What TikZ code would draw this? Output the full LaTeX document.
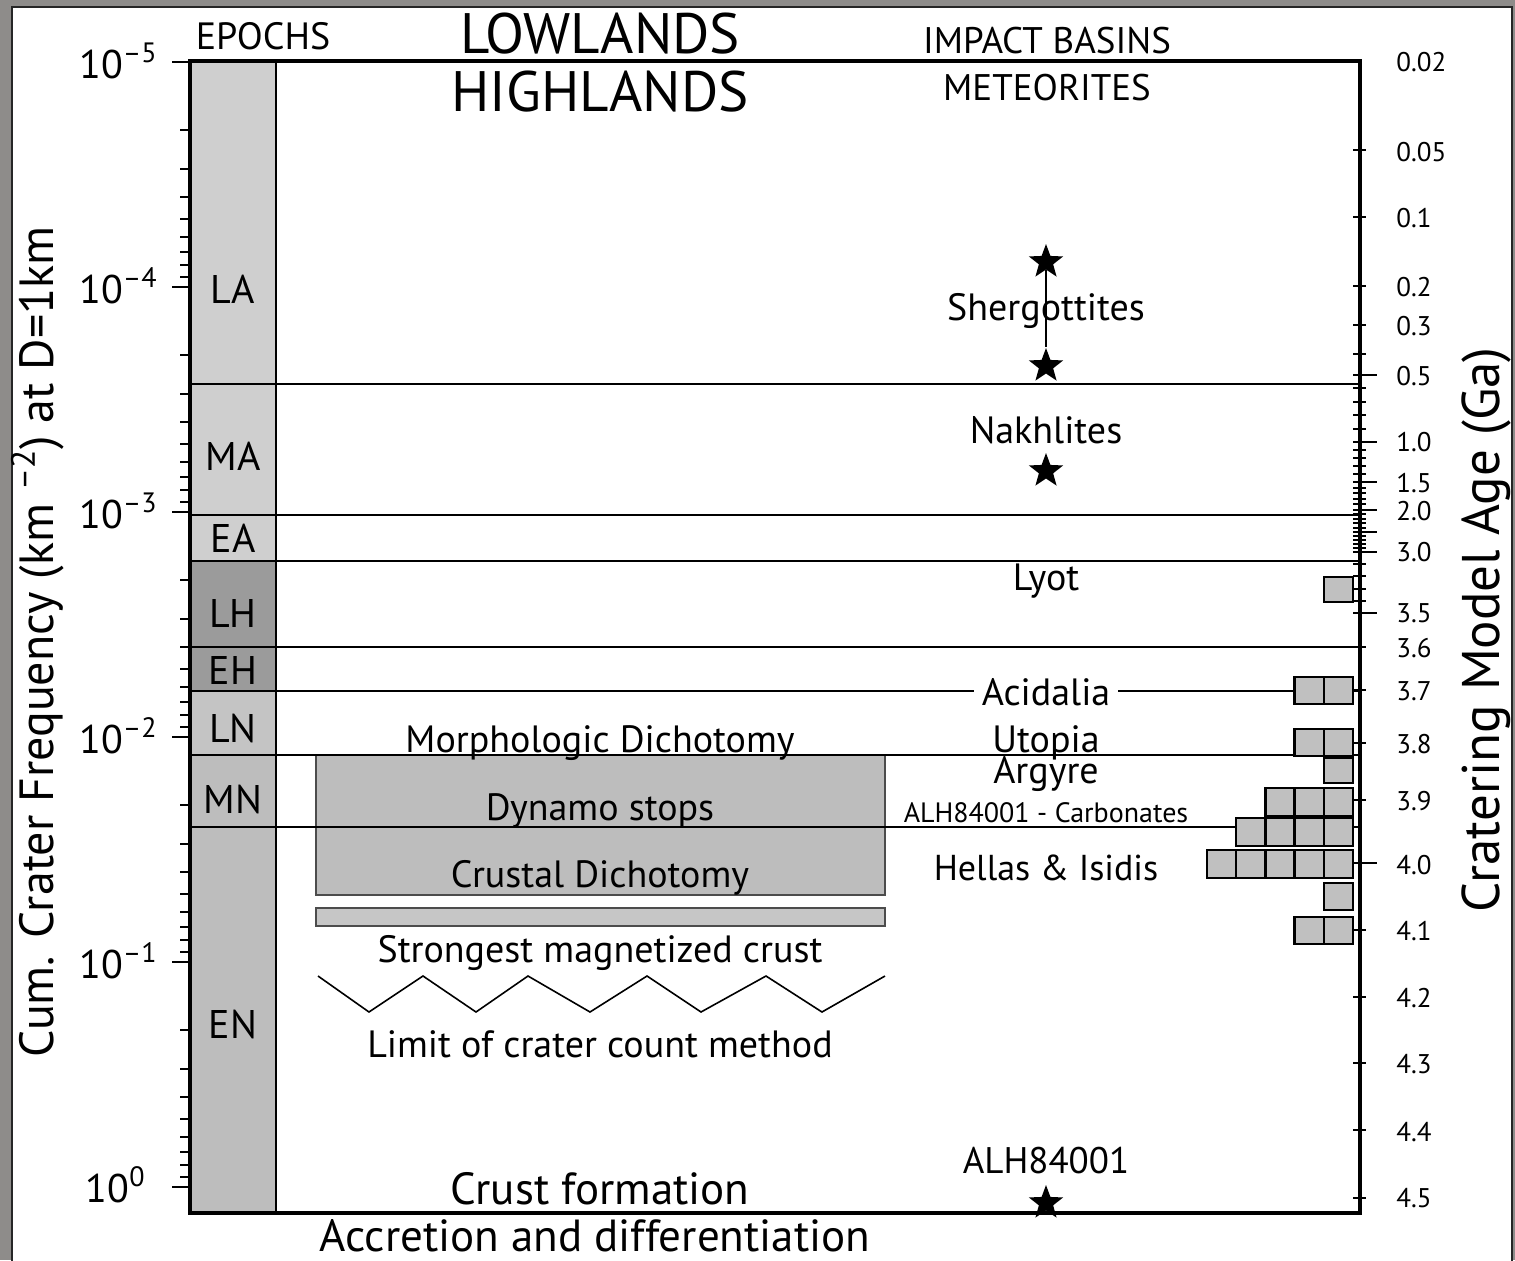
\documentclass[tikz,border=0pt]{standalone}
\usepackage{fontspec}
\setmainfont{PT Sans}
\usetikzlibrary{shapes.geometric}
\newcommand\fsz[1]{\fontsize{#1}{#1}\selectfont}
\definecolor{bggray}{HTML}{8E8C8A}
\definecolor{eplight}{HTML}{CFCFCF}
\definecolor{epmid}{HTML}{C4C4C4}
\definecolor{epdark}{HTML}{9B9B9B}
\definecolor{boxgray}{HTML}{BDBDBD}
\definecolor{bargray}{HTML}{C6C6C6}
\definecolor{sqgray}{HTML}{C0C0C0}
\begin{document}
\begin{tikzpicture}[x=0.5pt,y=-0.5pt,
  txt/.style={inner sep=0pt, anchor=base, font=\fsz{19}},
  eplab/.style={inner sep=0pt, anchor=base, font=\fsz{20}},
  head/.style={inner sep=0pt, anchor=base, font=\fsz{18.5}},
  big/.style={inner sep=0pt, anchor=base, font=\fsz{28.5}},
  ltick/.style={inner sep=0pt, anchor=base east, font=\fsz{20}},
  rtick/.style={inner sep=0pt, anchor=west, font=\fsz{13.5}},
  axtitle/.style={inner sep=0pt, anchor=base, rotate=90},
  sqbox/.style={fill=sqgray, draw=black, line width=1.2pt},
  starmark/.style={star, star points=5, star point ratio=2.4, fill=black, inner sep=0pt, minimum size=18pt},
  bline/.style={line width=1pt},
  frame/.style={line width=1.6pt}]
\useasboundingbox (0,0) rectangle (1515,1260);
\fill[bggray] (0,0) rectangle (1515,1260);
\draw[fill=white, draw=black!85, line width=1pt] (12,7) rectangle (1512,1290);

% epoch column fills
\foreach \a/\b/\c in {61/384/eplight, 384/515/eplight, 515/561/eplight, 561/647/epdark, 647/691/epdark, 691/755/epmid, 755/827/boxgray, 827/1213/boxgray}
  \fill[\c] (190,\a) rectangle (276,\b);

% gray boxes
\draw[fill=boxgray, draw=black!70, line width=0.8pt] (316,755) rectangle (885,895);
\draw[fill=bargray, draw=black!70, line width=0.8pt] (316,908) rectangle (885,926);

% zigzag
\draw[line width=0.8pt] (318,976) -- (369,1012) -- (423,976) -- (476,1012) -- (528,976) -- (590,1012) -- (647,976) -- (701,1012) -- (766,976) -- (822,1012) -- (885,976);

% epoch boundary lines
\foreach \y in {384,515,561,647,691,755,827}
  \draw[bline] (190,\y) -- (1360,\y);
\draw[bline] (276,61) -- (276,1213);

% left ticks
\foreach \d in {0,...,5}{
  \draw[line width=1pt] (172,{62+225*\d}) -- (190,{62+225*\d});
  \foreach \k in {2,...,9}{
    \pgfmathsetmacro\yy{62+225*\d+225*ln(\k)/ln(10)}
    \ifdim\yy pt<1213pt \draw[line width=1pt] (180,\yy) -- (190,\yy);\fi
  }
}
% right ticks
\foreach \y in {150,217,286,325,354,388.4,401.8,415.2,428.6,450,458,466,474,487.6,493.2,498.8,504.4,514.4,518.8,523.2,527.6,536,540,544,548,564.2,576.4,588.6,600.8,647,690,743,800,930,997,1063,1130,1198}
  \draw[line width=1pt] (1353,\y) -- (1366,\y);
\foreach \y in {375,442,482,510,532,552,613,863}
  \draw[line width=1pt] (1353,\y) -- (1377,\y);

% frame
\draw[frame] (190,61) rectangle (1360,1213);

% epoch labels
\node[eplab] (la) at (233,303) {LA};
\node[eplab] (ma) at (233,470) {MA};
\node[eplab] (ea) at (233,552) {EA};
\node[eplab] (lh) at (233,627) {LH};
\node[eplab] (eh) at (233,684) {EH};
\node[eplab] (ln) at (233,742) {LN};
\node[eplab] (mn) at (233,813) {MN};
\node[eplab] (en) at (233,1038) {EN};

% headings
\node[inner sep=0pt, anchor=base, font=\fsz{19}] (epochs) at (263,49) {EPOCHS};
\node[big] (lowl) at (600,53) {LOWLANDS};
\node[big] (highl) at (600,111) {HIGHLANDS};
\node[head] (impact) at (1047,53) {IMPACT BASINS};
\node[head] (meteo) at (1047,100) {METEORITES};

% left tick labels
\node[ltick] (t5) at (158,78) {10\textsuperscript{–5}};
\node[ltick] (t4) at (158,303) {10\textsuperscript{–4}};
\node[ltick] (t3) at (158,528) {10\textsuperscript{–3}};
\node[ltick] (t2) at (158,753) {10\textsuperscript{–2}};
\node[ltick] (t1) at (158,978) {10\textsuperscript{–1}};
\node[ltick] (t0) at (146,1202) {10\textsuperscript{0}};

% right tick labels
\foreach \v/\y [count=\i] in {0.02/62,0.05/152,0.1/218,0.2/287,0.3/326,0.5/376,1.0/442,1.5/483,2.0/511,3.0/552,3.5/613,3.6/648,3.7/691,3.8/744,3.9/801,4.0/865,4.1/931,4.2/998,4.3/1064,4.4/1132,4.5/1198}
  \node[rtick] (r\i) at (1396,\y) {\v};

% axis titles
\node[axtitle, font=\fsz{24}] (ytitle) at (53,642) {Cum. Crater Frequency (km \textsuperscript{–2}) at D=1km};
\node[axtitle, font=\fsz{26.5}] (y2title) at (1499,630) {Cratering Model Age (Ga)};

% middle texts
\node[txt] (morph) at (600,752) {Morphologic Dichotomy};
\node[txt] (dyn) at (600,820) {Dynamo stops};
\node[txt] (crd) at (600,887) {Crustal Dichotomy};
\node[txt] (strong) at (600,962) {Strongest magnetized crust};
\node[txt] (limit) at (600,1057) {Limit of crater count method};
\node[inner sep=0pt, anchor=base, font=\fsz{22.5}] (crustf) at (600,1204) {Crust formation};
\node[inner sep=0pt, anchor=base, font=\fsz{22.5}] (accr) at (595,1251) {Accretion and differentiation};

% right texts
\node[txt] (sherg) at (1046,320) {Shergottites};
\node[txt] (nakh) at (1046,443) {Nakhlites};
\node[txt] (lyot) at (1046,590) {Lyot};
\node[txt, fill=white, inner xsep=4pt, inner ysep=0pt] (acid) at (1046,705) {Acidalia};
\node[txt] (utop) at (1046,752) {Utopia};
\node[txt] (argy) at (1046,783) {Argyre};
\node[inner sep=0pt, anchor=base, font=\fsz{14}] (carb) at (1046,822) {ALH84001 - Carbonates};
\node[txt, font=\fsz{18}] (hell) at (1046,880) {Hellas \& Isidis};
\node[txt, font=\fsz{18.5}] (alh) at (1046,1173) {ALH84001};

% stars
\node[starmark] (s1) at (1046,262) {};
\node[starmark] (s2) at (1046,366) {};
\draw[line width=0.7pt] (s1) -- (s2);
\node[starmark] (s3) at (1046,471) {};
\node[starmark] (s4) at (1046,1203) {};

% histogram squares
\foreach \t/\b/\n in {577/602/1, 677/704/2, 729/756/2, 758/783/1, 788/816/3, 818/846/4, 850/878/5, 883/910/1, 917/944/2}
  \foreach \k in {1,...,\n}
    \draw[sqbox] ({1353-\k*29.2},\t) rectangle ({1353-(\k-1)*29.2},\b);
\end{tikzpicture}
\end{document}
